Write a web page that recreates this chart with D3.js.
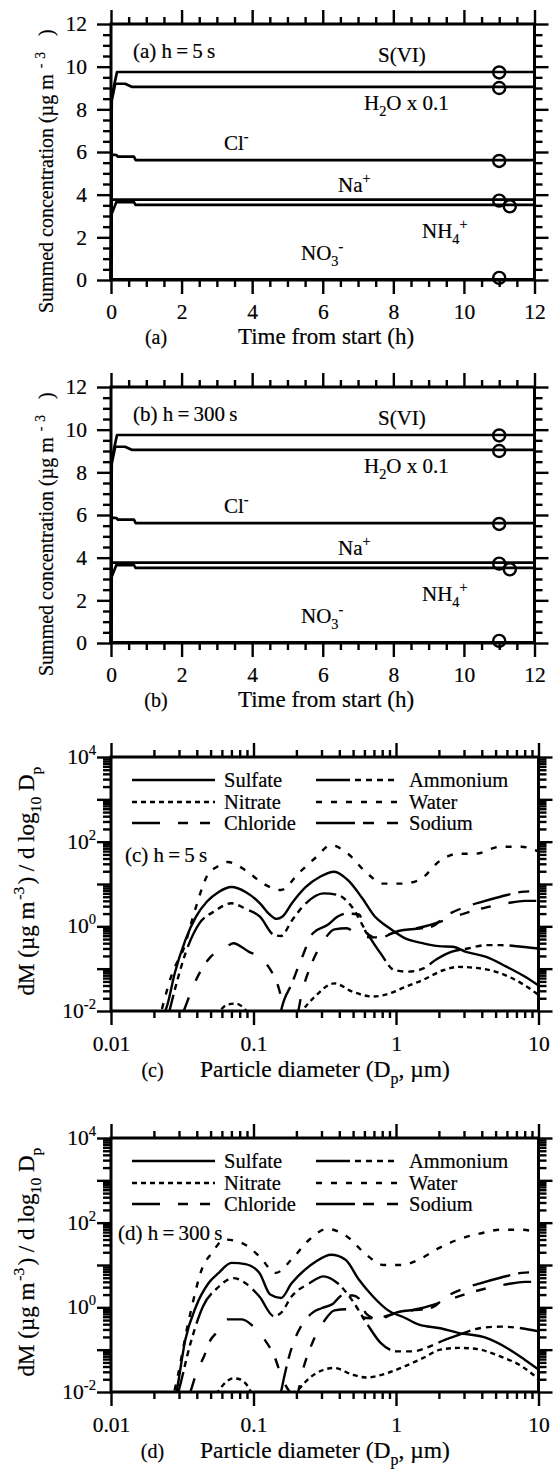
<!DOCTYPE html>
<html><head><meta charset="utf-8">
<script src="https://cdn.jsdelivr.net/npm/d3@7"></script>
<style>
body{margin:0;background:#fff}
svg text{font-family:"Liberation Serif","Times New Roman",serif;fill:#000;stroke:#000;stroke-width:0.2px}
</style></head><body>
<svg id="chart" width="553" height="1471"></svg>
<script>
// ---------- Panels (a) and (b): summed concentration vs time ----------
const timeTicks = [0, 2, 4, 6, 8, 10, 12];
const concTicks = [0, 2, 4, 6, 8, 10, 12];

const tSVI = [0, 0.02, 0.17, 12];             const vSVI = [0, 8.6, 9.75, 9.75];
const tH2O = [0, 0.02, 0.12, 0.4, 0.6, 12];   const vH2O = [0, 8.4, 9.2, 9.2, 9.05, 9.05];
const tCl  = [0, 0.02, 0.15, 0.2, 0.65, 0.7, 12]; const vCl = [0, 5.88, 5.86, 5.78, 5.78, 5.62, 5.62];
const tNa  = [0, 0.02, 12];                    const vNa = [0, 3.77, 3.77];
const tNH4 = [0, 0.02, 0.15, 0.65, 0.7, 12];   const vNH4 = [0, 3.1, 3.65, 3.65, 3.52, 3.52];
const tNO3 = [0, 12];                          const vNO3 = [0.03, 0.03];

const markerTime = [11, 11, 11, 11, 11.3, 11];
const markerConc = [9.73, 9.0, 5.58, 3.72, 3.45, 0.1];

// ---------- Panels (c) and (d): mass distributions ----------
const decadeTicksX = [0.01, 0.1, 1, 10];
const decadeTicksY = [1e-2, 1e-1, 1e0, 1e1, 1e2, 1e3, 1e4];
const labelTicksY = [1e-2, 1e0, 1e2, 1e4];
const legendNames = ["Sulfate", "Nitrate", "Chloride", "Ammonium", "Water", "Sodium"];

// panel (c) h = 5 s
const sulfC_dp = [0.0235,0.025,0.028,0.0333,0.0395,0.047,0.057,0.07,0.088,0.111,0.13,0.145,0.16,0.186,0.233,0.293,0.368,0.46,0.58,0.71,0.87,1.16,1.54,2.0,2.5,3.1,4.3,6.0,8.0,10];
const sulfC_v  = [0.008,0.015,0.078,0.48,1.7,3.8,6.5,8.5,6.5,3.5,1.9,1.5,1.7,3.5,8.5,14.8,19.5,12.3,4.6,1.7,0.98,0.52,0.40,0.34,0.33,0.25,0.19,0.11,0.065,0.04];
const nitrC_dp = [0.05,0.058,0.065,0.075,0.085,0.1,0.15,0.2,0.22,0.27,0.37,0.49,0.69,0.87,1.16,1.54,2.17,2.73,3.6,5.4,7.6,10];
const nitrC_v  = [0.005,0.01,0.014,0.015,0.012,0.006,0.002,0.006,0.01,0.022,0.045,0.029,0.022,0.025,0.037,0.054,0.093,0.11,0.105,0.078,0.045,0.024];
const chlC_dp  = [0.03,0.0324,0.0395,0.05,0.063,0.072,0.093,0.11,0.13,0.145,0.17,0.2,0.22,0.26,0.31,0.37,0.45,0.55,0.7,1.0,1.5,2.2,3.0,4.3,6.0,8.0,10];
const chlC_v   = [0.005,0.01,0.054,0.19,0.3,0.4,0.25,0.19,0.1,0.05,0.01,0.008,0.03,0.15,0.45,0.85,0.9,0.6,0.55,0.72,0.95,1.4,2.0,2.8,3.5,4.0,4.0];
const ammC_dp  = [0.024,0.0257,0.0297,0.0333,0.0417,0.0525,0.07,0.088,0.111,0.139,0.156,0.186,0.233,0.31,0.39,0.49,0.61,0.78,0.97,1.22,1.54,1.94,2.44,3.2,4.3,5.4,7.6,10];
const ammC_v   = [0.004,0.01,0.065,0.23,1.17,2.2,3.5,2.6,1.7,0.63,0.59,1.38,3.5,6.0,5.5,2.9,0.81,0.23,0.093,0.085,0.1,0.17,0.25,0.3,0.36,0.36,0.33,0.3];
const watC_dp  = [0.0215,0.0226,0.027,0.0324,0.039,0.0469,0.056,0.066,0.088,0.117,0.156,0.207,0.277,0.348,0.46,0.61,0.82,1.09,1.45,2.05,2.73,3.6,5.4,7.6,10];
const watC_v   = [0.005,0.01,0.08,0.3,2.5,14.8,26,33,21,10.2,7.2,17.8,44,83,52,19.5,10.2,10.2,12.3,36,52,52,76,76,58];
const sodC_dp  = [0.15,0.156,0.186,0.22,0.26,0.33,0.39,0.45,0.55,0.62,0.75,1.0,1.8,2.2,3.0,4.0,5.4,7.6,10];
const sodC_v   = [0.005,0.01,0.045,0.19,0.68,1.07,1.7,2.0,1.9,0.7,0.52,0.75,1.0,1.7,2.8,3.8,5.0,6.5,6.8];

// panel (d) h = 300 s
const sulfD_dp = [0.027,0.0288,0.0332,0.0395,0.0483,0.057,0.07,0.088,0.11,0.131,0.156,0.185,0.23,0.276,0.35,0.44,0.55,0.69,0.87,1.16,1.45,2.05,2.73,4.3,6.0,8.0,10];
const sulfD_v  = [0.004,0.01,0.17,1.05,3.7,6.5,11.2,10.5,6.5,2.0,1.66,3.7,7.8,12.3,17.4,13.5,4.5,1.8,0.87,0.56,0.39,0.32,0.25,0.19,0.11,0.058,0.034];
const nitrD_dp = [0.05,0.056,0.064,0.072,0.08,0.088,0.1,0.15,0.2,0.226,0.276,0.37,0.49,0.62,0.87,1.16,1.54,2.05,2.73,3.6,5.4,7.6,10];
const nitrD_v  = [0.006,0.01,0.017,0.021,0.02,0.016,0.008,0.003,0.01,0.016,0.028,0.037,0.026,0.022,0.028,0.041,0.063,0.1,0.11,0.105,0.069,0.041,0.02];
const chlD_dp  = [0.033,0.036,0.04,0.045,0.05,0.055,0.066,0.083,0.1,0.12,0.14,0.16,0.2,0.22,0.26,0.31,0.37,0.45,0.55,0.7,1.0,1.5,2.2,3.0,4.3,6.0,8.0,10];
const chlD_v   = [0.005,0.01,0.03,0.07,0.17,0.25,0.52,0.52,0.35,0.17,0.07,0.02,0.008,0.03,0.15,0.45,0.85,0.9,0.6,0.55,0.72,0.95,1.4,2.0,2.8,3.5,4.0,4.0];
const ammD_dp  = [0.028,0.0297,0.0362,0.0442,0.056,0.072,0.088,0.11,0.139,0.156,0.185,0.247,0.31,0.39,0.49,0.62,0.78,1.02,1.3,1.73,2.2,2.73,3.85,5.4,7.6,10];
const ammD_v   = [0.005,0.01,0.145,1.05,2.9,4.9,3.7,1.8,0.62,0.74,1.8,3.7,5.4,3.7,1.5,0.43,0.145,0.091,0.091,0.12,0.17,0.22,0.32,0.35,0.32,0.27];
const watD_dp  = [0.026,0.0277,0.0352,0.0442,0.051,0.0624,0.083,0.11,0.143,0.185,0.247,0.33,0.45,0.62,0.82,1.09,1.45,2.0,2.73,3.85,5.4,7.6,10];
const watD_v   = [0.005,0.01,0.51,9.3,19,40,33,16,6.5,13.5,40,71,48,17.4,10,10,13.5,25,40,55,68,68,58];
const sodD_dp  = [0.15,0.156,0.18,0.22,0.26,0.3,0.36,0.42,0.5,0.55,0.62,0.75,1.0,1.8,2.2,3.0,4.0,5.4,7.6,10];
const sodD_v   = [0.005,0.01,0.08,0.4,0.75,0.95,1.2,1.9,1.9,1.6,0.7,0.52,0.75,1.0,1.7,2.8,3.8,5.0,6.5,6.8];

// ---------- drawing ----------
const FONT = '"Liberation Serif","Times New Roman",serif';
const svg = d3.select("#chart");
const defs = svg.append("defs");

function rich(sel, parts, size) {
  // parts: [text, mode, dx] where mode '' | 'sup' | 'sub'
  let shift = 0;
  parts.forEach(([t, mode, dx]) => {
    const ts = sel.append("tspan").text(t);
    let target = 0, fs = size;
    if (mode === "sup") { target = -0.42 * size; fs = size * 0.68; }
    if (mode === "sub") { target = 0.3 * size; fs = size * 0.68; }
    ts.attr("dy", target - shift).attr("font-size", fs);
    if (dx) ts.attr("dx", dx);
    shift = target;
  });
  return sel;
}

function styleAxis(g, fs) {
  g.select(".domain").remove();
  g.selectAll(".tick line").attr("stroke", "#000").attr("stroke-width", 2.4);
  g.attr("font-family", FONT).attr("font-size", fs);
  g.selectAll(".tick text").attr("fill", "#000");
}

function range(a, b, s) { const r = []; for (let v = a; v <= b + 1e-9; v += s) r.push(+v.toFixed(4)); return r; }

function timePanel(P) {
  const x = d3.scaleLinear().domain([0, 12]).range([P.left, P.right]);
  const y = d3.scaleLinear().domain([0, 12]).range([P.bottom, P.top]);
  const g = svg.append("g");
  const minor = range(0, 12, 0.5).filter(v => !timeTicks.includes(v));
  const minorY = range(0, 12, 0.5).filter(v => !concTicks.includes(v));
  g.append("g").attr("transform", `translate(0,${P.bottom})`)
    .call(d3.axisBottom(x).tickValues(timeTicks).tickSize(14).tickPadding(10).tickFormat(d3.format("d")))
    .call(s => styleAxis(s, 21.5));
  g.append("g").attr("transform", `translate(0,${P.bottom})`)
    .call(d3.axisBottom(x).tickValues(minor).tickSize(7).tickFormat("")).call(s => styleAxis(s, 21));
  g.append("g").attr("transform", `translate(0,${P.top})`)
    .call(d3.axisTop(x).tickValues(timeTicks).tickSize(14).tickFormat("")).call(s => styleAxis(s, 21));
  g.append("g").attr("transform", `translate(0,${P.top})`)
    .call(d3.axisTop(x).tickValues(minor).tickSize(7).tickFormat("")).call(s => styleAxis(s, 21));
  g.append("g").attr("transform", `translate(${P.left},0)`)
    .call(d3.axisLeft(y).tickValues(concTicks).tickSize(14).tickPadding(10).tickFormat(d3.format("d")))
    .call(s => styleAxis(s, 21.5));
  g.append("g").attr("transform", `translate(${P.left},0)`)
    .call(d3.axisLeft(y).tickValues(minorY).tickSize(8).tickFormat("")).call(s => styleAxis(s, 21));
  g.append("g").attr("transform", `translate(${P.right},0)`)
    .call(d3.axisRight(y).tickValues(concTicks).tickSize(14).tickFormat("")).call(s => styleAxis(s, 21));
  g.append("g").attr("transform", `translate(${P.right},0)`)
    .call(d3.axisRight(y).tickValues(minorY).tickSize(8).tickFormat("")).call(s => styleAxis(s, 21));

  const line = d3.line().x(d => x(d[0])).y(d => y(d[1]));
  const series = [[tSVI, vSVI], [tH2O, vH2O], [tCl, vCl], [tNa, vNa], [tNH4, vNH4], [tNO3, vNO3]];
  series.forEach(([t, v]) => {
    g.append("path").datum(t.map((tt, i) => [tt, v[i]])).attr("d", line)
      .attr("fill", "none").attr("stroke", "#000").attr("stroke-width", 2.7).attr("stroke-linejoin", "round");
  });
  g.selectAll("circle.m").data(markerTime.map((t, i) => [t, markerConc[i]])).join("circle")
    .attr("cx", d => x(d[0])).attr("cy", d => y(d[1])).attr("r", 6)
    .attr("fill", "none").attr("stroke", "#000").attr("stroke-width", 2.4);

  g.append("rect").attr("x", P.left).attr("y", P.top).attr("width", P.right - P.left).attr("height", P.bottom - P.top)
    .attr("fill", "none").attr("stroke", "#000").attr("stroke-width", 3);

  const T = P.top;
  const txt = (xx, yy, parts, fs = 21) => rich(g.append("text").attr("x", xx).attr("y", yy).attr("font-size", fs), parts, fs);
  txt(133, T + 34, [[P.tag, ""]]);
  txt(378, T + 38, [["S(VI)", ""]]);
  txt(364, T + 86, [["H", ""], ["2", "sub"], ["O x 0.1", ""]]);
  txt(224, T + 126, [["Cl", ""], ["-", "sup"]]);
  txt(338, T + 168, [["Na", ""], ["+", "sup"]]);
  txt(422, T + 214, [["NH", ""], ["4", "sub"], ["+", "sup"]]);
  txt(301, T + 236, [["NO", ""], ["3", "sub"], ["-", "sup"]]);

  g.append("text").attr("x", 156).attr("y", P.bottom + 64).attr("text-anchor", "middle").attr("font-size", 20).text(P.letter);
  g.append("text").attr("x", 326).attr("y", P.bottom + 64).attr("text-anchor", "middle").attr("font-size", 23).text("Time from start (h)");
  const yt = g.append("text").attr("text-anchor", "start").attr("font-size", 20)
    .attr("transform", `translate(53,${P.bottom + 33}) rotate(-90)`);
  rich(yt, [["Summed concentration (\u00b5g m", ""], ["-", "sup", 6], ["3", "sup", 5], [")", "", 16]], 20);
}

function distPanel(P) {
  const x = d3.scaleLog().domain([0.01, 10]).range([P.left, P.right]);
  const y = d3.scaleLog().domain([1e-2, 1e4]).range([P.bottom, P.top]);
  const g = svg.append("g");
  const minorX = [], minorY = [];
  [0.01, 0.1, 1].forEach(d => { for (let k = 2; k <= 9; k++) minorX.push(k * d); });
  [1e-2, 1e-1, 1, 10, 100, 1000].forEach(d => { for (let k = 2; k <= 9; k++) minorY.push(k * d); });

  g.append("g").attr("transform", `translate(0,${P.bottom})`)
    .call(d3.axisBottom(x).tickValues(decadeTicksX).tickSize(14).tickPadding(11).tickFormat(d => String(d)))
    .call(s => styleAxis(s, 21.5));
  g.append("g").attr("transform", `translate(0,${P.bottom})`)
    .call(d3.axisBottom(x).tickValues(minorX).tickSize(7).tickFormat("")).call(s => styleAxis(s, 21));
  g.append("g").attr("transform", `translate(0,${P.top})`)
    .call(d3.axisTop(x).tickValues(decadeTicksX).tickSize(14).tickFormat("")).call(s => styleAxis(s, 21));
  g.append("g").attr("transform", `translate(0,${P.top})`)
    .call(d3.axisTop(x).tickValues(minorX).tickSize(7).tickFormat("")).call(s => styleAxis(s, 21));
  g.append("g").attr("transform", `translate(${P.left},0)`)
    .call(d3.axisLeft(y).tickValues(decadeTicksY).tickSize(14).tickFormat(""))
    .call(s => styleAxis(s, 21));
  g.append("g").attr("transform", `translate(${P.left},0)`)
    .call(d3.axisLeft(y).tickValues(minorY).tickSize(8).tickFormat("")).call(s => styleAxis(s, 21));
  g.append("g").attr("transform", `translate(${P.right},0)`)
    .call(d3.axisRight(y).tickValues(decadeTicksY).tickSize(14).tickFormat("")).call(s => styleAxis(s, 21));
  g.append("g").attr("transform", `translate(${P.right},0)`)
    .call(d3.axisRight(y).tickValues(minorY).tickSize(8).tickFormat("")).call(s => styleAxis(s, 21));
  labelTicksY.forEach(v => {
    const t = g.append("text").attr("x", P.left - 15).attr("y", y(v) + 7).attr("text-anchor", "end").attr("font-size", 21.5);
    rich(t, [["10", ""], [String(Math.round(Math.log10(v))), "sup"]], 21.5);
  });

  const cid = "clip" + P.letter.replace(/\W/g, "");
  defs.append("clipPath").attr("id", cid).append("rect")
    .attr("x", P.left).attr("y", P.top).attr("width", P.right - P.left).attr("height", P.bottom - P.top);
  const line = d3.line().x(d => x(d[0])).y(d => y(d[1])).curve(d3.curveMonotoneX);
  const styles = P.series;
  const cg = g.append("g").attr("clip-path", `url(#${cid})`);
  styles.forEach(s => {
    cg.append("path").datum(s.dp.map((d, i) => [d, s.v[i]])).attr("d", line)
      .attr("fill", "none").attr("stroke", "#000").attr("stroke-width", 2.4)
      .attr("stroke-dasharray", s.dash);
  });

  g.append("rect").attr("x", P.left).attr("y", P.top).attr("width", P.right - P.left).attr("height", P.bottom - P.top)
    .attr("fill", "none").attr("stroke", "#000").attr("stroke-width", 3);

  const rowsY = [23, 45, 66];
  const cols = [[132, 215, 224], [316, 400, 409]];
  legendNames.forEach((name, i) => {
    const c = cols[Math.floor(i / 3)], r = P.top + rowsY[i % 3];
    const s = styles.find(q => q.name === name);
    g.append("line").attr("x1", c[0]).attr("x2", c[1]).attr("y1", r).attr("y2", r)
      .attr("stroke", "#000").attr("stroke-width", 2.4).attr("stroke-dasharray", s.dash);
    g.append("text").attr("x", c[2]).attr("y", r + 7).attr("font-size", 20.5).text(name);
  });

  g.append("text").attr("x", P.tagX).attr("y", P.top + P.tagDy).attr("font-size", 21).text(P.tag);

  g.append("text").attr("x", 152.5).attr("y", P.bottom + 66).attr("text-anchor", "middle").attr("font-size", 20).text(P.letter);
  const xt = g.append("text").attr("x", 325).attr("y", P.bottom + 66).attr("text-anchor", "middle").attr("font-size", 23.5);
  rich(xt, [["Particle diameter (D", ""], ["p", "sub"], [", \u00b5m)", ""]], 23.5);
  const yt = g.append("text").attr("text-anchor", "middle").attr("font-size", 23)
    .attr("transform", `translate(34,${(P.top + P.bottom) / 2 - 3}) rotate(-90)`);
  rich(yt, [["dM (\u00b5g m", ""], ["-3", "sup", 2], [") / d log", "", 2], ["10", "sub"], [" D", ""], ["p", "sub"]], 23);
}

const DASH = {
  Sulfate: null,
  Nitrate: "5,4",
  Chloride: "28,18,10,12,10,18",
  Ammonium: "34,5,6,5,6,5,6,5,6,6",
  Water: "6,9",
  Sodium: "39,8,11,13,11,13"
};

timePanel({ left: 111, right: 534.5, top: 24, bottom: 280, tag: "(a) h\u2009=\u20095\u2009s", letter: "(a)" });
timePanel({ left: 111, right: 534.5, top: 387, bottom: 643, tag: "(b) h\u2009=\u2009300\u2009s", letter: "(b)" });

distPanel({ left: 111, right: 538.5, top: 757, bottom: 1011, tag: "(c) h\u2009=\u20095\u2009s", tagX: 125, tagDy: 105, letter: "(c)",
  series: [
    { name: "Sulfate", dp: sulfC_dp, v: sulfC_v, dash: DASH.Sulfate },
    { name: "Nitrate", dp: nitrC_dp, v: nitrC_v, dash: DASH.Nitrate },
    { name: "Chloride", dp: chlC_dp, v: chlC_v, dash: DASH.Chloride },
    { name: "Ammonium", dp: ammC_dp, v: ammC_v, dash: DASH.Ammonium },
    { name: "Water", dp: watC_dp, v: watC_v, dash: DASH.Water },
    { name: "Sodium", dp: sodC_dp, v: sodC_v, dash: DASH.Sodium }
  ]});
distPanel({ left: 111, right: 538.5, top: 1138, bottom: 1392, tag: "(d) h\u2009=\u2009300\u2009s", tagX: 118, tagDy: 102, letter: "(d)",
  series: [
    { name: "Sulfate", dp: sulfD_dp, v: sulfD_v, dash: DASH.Sulfate },
    { name: "Nitrate", dp: nitrD_dp, v: nitrD_v, dash: DASH.Nitrate },
    { name: "Chloride", dp: chlD_dp, v: chlD_v, dash: DASH.Chloride },
    { name: "Ammonium", dp: ammD_dp, v: ammD_v, dash: DASH.Ammonium },
    { name: "Water", dp: watD_dp, v: watD_v, dash: DASH.Water },
    { name: "Sodium", dp: sodD_dp, v: sodD_v, dash: DASH.Sodium }
  ]});
</script>
</body></html>
